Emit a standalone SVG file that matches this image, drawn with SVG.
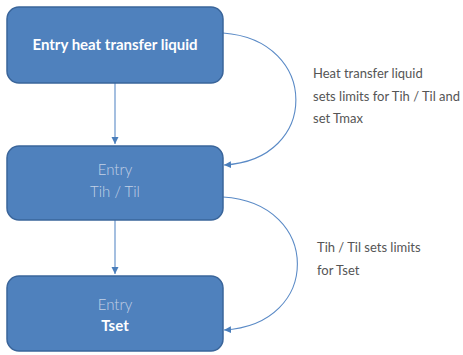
<svg xmlns="http://www.w3.org/2000/svg" width="463" height="355" viewBox="0 0 463 355">
<defs>
<style>
.box{fill:#4F81BD;stroke:#3A659A;stroke-width:1.5}
.conn{fill:none;stroke:#5A8AC6;stroke-width:1.1}
.bt{font-family:Lato,"Open Sans",sans-serif;font-size:15px;fill:#FFFFFF;text-anchor:middle}
.b{font-weight:bold}
.lt{fill:#C3D1E6;font-weight:300}
.lbl{font-family:Lato,"Open Sans",sans-serif;font-size:13px;fill:#555555}
</style>
<marker id="ah" markerWidth="8" markerHeight="8" refX="7" refY="4" orient="auto" markerUnits="userSpaceOnUse">
<path d="M0,0.5 L7,4 L0,7.5 Z" fill="#4A7EBB"/>
</marker>
</defs>
<g id="connectors">
<path class="conn" d="M115,83 L115,144" marker-end="url(#ah)"/>
<path class="conn" d="M115,220 L115,274" marker-end="url(#ah)"/>
<path class="conn" d="M223,33 C320,40 320,160 224,165" marker-end="url(#ah)"/>
<path class="conn" d="M223,197 C322,203 322,325 224,330" marker-end="url(#ah)"/>
</g>
<g id="node1">
<rect class="box" x="7" y="7" width="216" height="76" rx="12"/>
<text class="bt b" x="115" y="50">Entry heat transfer liquid</text>
</g>
<g id="node2">
<rect class="box" x="7" y="146" width="216" height="74" rx="12"/>
<text class="bt lt" x="115" y="175">Entry</text>
<text class="bt lt" x="115" y="197">Tih / Til</text>
</g>
<g id="node3">
<rect class="box" x="7" y="276" width="216" height="75" rx="12"/>
<text class="bt lt" x="115" y="310">Entry</text>
<text class="bt b" x="115" y="331">Tset</text>
</g>
<g id="label1">
<text class="lbl" x="313" y="78">Heat transfer liquid</text>
<text class="lbl" x="313" y="101">sets limits for Tih / Til and</text>
<text class="lbl" x="313" y="123">set Tmax</text>
</g>
<g id="label2">
<text class="lbl" x="317" y="252">Tih / Til sets limits</text>
<text class="lbl" x="317" y="275">for Tset</text>
</g>
</svg>
